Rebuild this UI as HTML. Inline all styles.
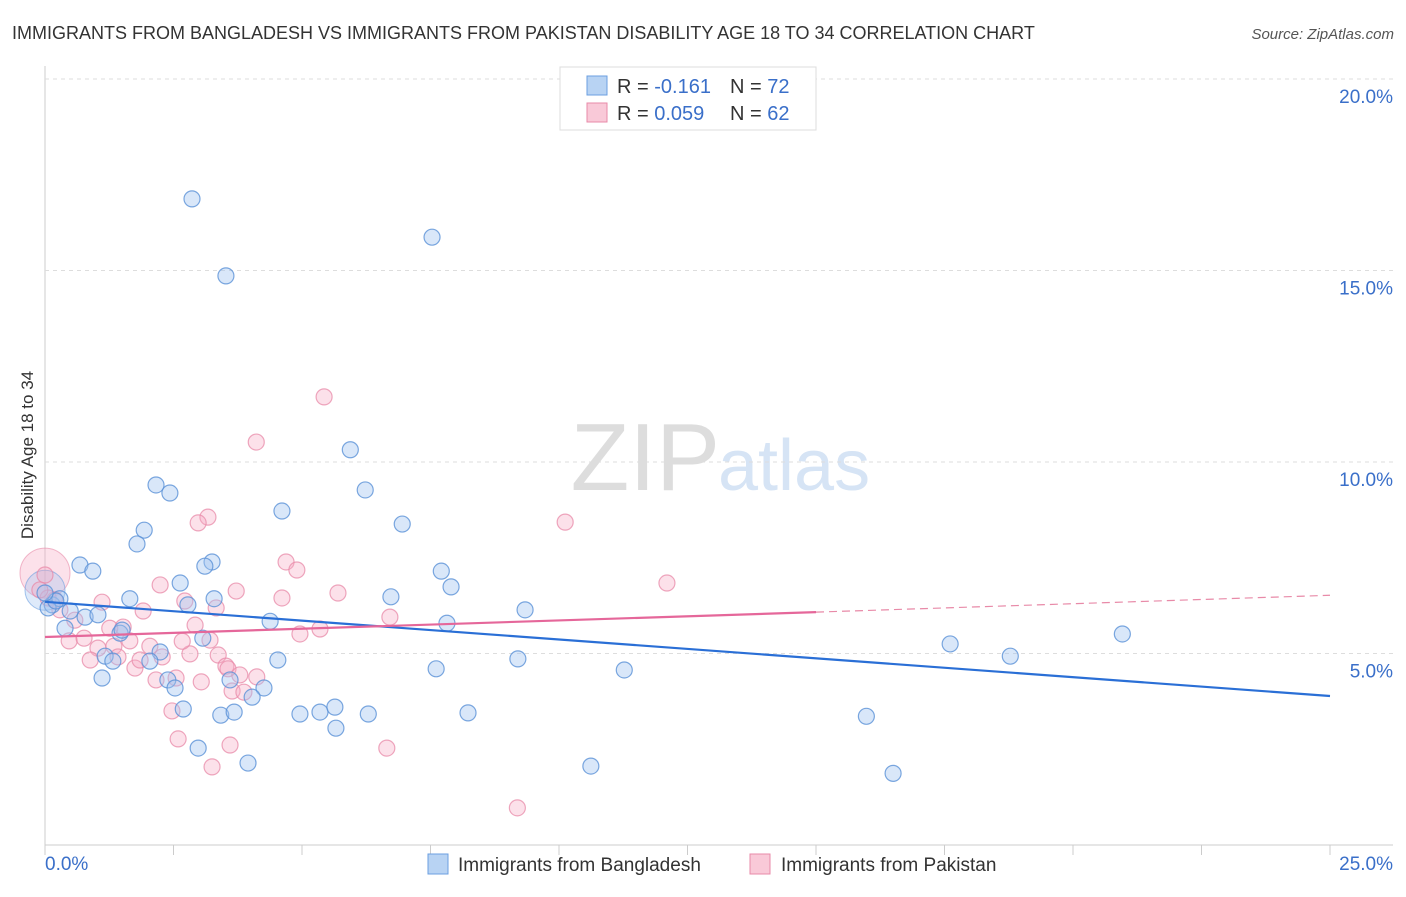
<!DOCTYPE html>
<html><head><meta charset="utf-8">
<style>
body{margin:0;background:#fff;font-family:"Liberation Sans",sans-serif;}
svg text{font-family:"Liberation Sans",sans-serif;}
</style></head>
<body>
<svg id="chart" width="1406" height="892" xmlns="http://www.w3.org/2000/svg">
<text x="12" y="39" font-size="18" fill="#333">IMMIGRANTS FROM BANGLADESH VS IMMIGRANTS FROM PAKISTAN DISABILITY AGE 18 TO 34 CORRELATION CHART</text>
<text x="1394" y="39" font-size="15" fill="#555" text-anchor="end" font-style="italic">Source: ZipAtlas.com</text>
<text x="720" y="490" font-size="96" text-anchor="end" fill="#ddd" font-family="Liberation Serif">ZIP</text>
<text x="718" y="490" font-size="72" fill="#d6e4f5">atlas</text>
<text transform="translate(33,455) rotate(-90)" font-size="17" fill="#333" text-anchor="middle">Disability Age 18 to 34</text>
<g id="grid"></g>
<g id="marks"></g>
<g>
<rect x="560" y="67" width="256" height="63" fill="#fff" stroke="#ddd"/>
<rect x="587" y="76" width="20" height="19" fill="#b8d3f3" stroke="#6b9fe0"/>
<rect x="587" y="103" width="20" height="19" fill="#f9c9d8" stroke="#e88aa8"/>
<text x="617" y="93" font-size="20" fill="#333">R = <tspan fill="#3a6fc9">-0.161</tspan></text>
<text x="730" y="93" font-size="20" fill="#333">N = <tspan fill="#3a6fc9">72</tspan></text>
<text x="617" y="120" font-size="20" fill="#333">R = <tspan fill="#3a6fc9">0.059</tspan></text>
<text x="730" y="120" font-size="20" fill="#333">N = <tspan fill="#3a6fc9">62</tspan></text>
</g>
<g>
<rect x="428" y="854" width="20" height="20" fill="#b8d3f3" stroke="#6b9fe0"/>
<text x="458" y="871" font-size="19" fill="#333">Immigrants from Bangladesh</text>
<rect x="750" y="854" width="20" height="20" fill="#f9c9d8" stroke="#e88aa8"/>
<text x="781" y="871" font-size="19" fill="#333">Immigrants from Pakistan</text>
</g>
</svg>
<script>
const yTicks=[5,10,15,20];
const yTickLabels=["5.0%","10.0%","15.0%","20.0%"];
const xTickLabels=["0.0%","25.0%"];
const blueX=[2.86,7.53,3.52,5.94,2.16,2.43,6.23,4.61,6.95,1.93,1.79,0.68,3.25,0.93,3.11,2.63,7.71,7.90,6.73,1.65,3.29,2.78,9.34,0.14,0.29,0.49,0.78,1.03,1.46,1.50,0.39,4.38,7.82,3.07,2.24,2.04,1.17,1.32,4.53,9.20,7.61,11.27,17.61,18.78,20.96,1.11,2.39,2.53,3.60,4.26,4.03,2.69,3.42,3.68,4.96,5.35,5.64,6.29,8.23,5.66,2.98,3.95,10.62,15.98,16.50,0.06,0.21,0.0];
const blueY=[16.87,15.87,14.86,10.32,9.40,9.19,9.27,8.72,8.38,8.22,7.86,7.31,7.39,7.15,7.28,6.84,7.15,6.74,6.48,6.43,6.43,6.27,6.14,6.27,6.43,6.11,5.95,6.01,5.53,5.61,5.66,5.84,5.79,5.40,5.04,4.80,4.93,4.80,4.83,4.86,4.60,4.57,5.25,4.93,5.51,4.36,4.31,4.10,4.31,4.10,3.86,3.55,3.39,3.47,3.42,3.47,3.60,3.42,3.45,3.05,2.53,2.14,2.06,3.36,1.87,6.19,6.37,6.58];
const pinkX=[5.43,4.11,10.12,3.17,2.98,4.69,4.90,12.10,2.24,3.72,5.70,4.61,1.11,2.72,3.33,1.91,6.71,5.35,4.96,2.92,1.52,0.47,0.76,1.03,1.34,1.65,2.04,2.28,2.82,3.37,3.52,3.56,3.79,4.12,3.64,2.16,2.55,3.04,3.87,2.47,2.59,3.60,3.25,6.65,9.19,0.0,0.19,0.29,0.58,1.26,1.75,0.88,1.42,0.06,-0.10,2.67,3.21,1.85];
const pinkY=[11.70,10.52,8.43,8.56,8.41,7.39,7.18,6.84,6.79,6.63,6.58,6.45,6.34,6.37,6.19,6.11,5.95,5.64,5.51,5.74,5.69,5.33,5.40,5.14,5.19,5.33,5.19,4.91,4.99,4.96,4.67,4.60,4.44,4.39,4.02,4.31,4.36,4.26,3.99,3.50,2.77,2.61,2.04,2.53,0.97,7.05,6.40,6.14,5.87,5.66,4.62,4.83,4.91,6.45,6.66,5.32,5.35,4.83];
const blueTrend=[[0,6.35],[25,3.89]];
const pinkTrend=[[0,5.43],[15,6.08]];
const pinkDash=[[15,6.08],[25,6.52]];
const NS="http://www.w3.org/2000/svg";
const X0=45,X1=1330,Y0=845,PX=191.5/5;
const sx=v=>X0+(v/25)*(X1-X0);
const sy=v=>Y0-v*PX;
function mk(tag,attrs,parent){const e=document.createElementNS(NS,tag);for(const k in attrs)e.setAttribute(k,attrs[k]);parent.appendChild(e);return e;}
const grid=document.getElementById('grid'),marks=document.getElementById('marks');
let l=mk('line',{x1:X0,y1:66,x2:X0,y2:Y0,stroke:'#ccc'},grid);


l=mk('line',{x1:X0,y1:Y0,x2:1393,y2:Y0,stroke:'#ccc'},grid);


yTicks.forEach((t,i)=>{
 const g=mk('line',{x1:X0,y1:sy(t),x2:1393,y2:sy(t),stroke:'#ddd','stroke-dasharray':'4,4'},grid);
 
 
 const tx=mk('text',{x:1393,y:sy(t)+24,'font-size':19,fill:'#3a6fc9','text-anchor':'end'},grid);
 tx.textContent=yTickLabels[i];
 
 
});
for(let i=0;i<=10;i++){
 const t=mk('line',{x1:sx(i*2.5),y1:Y0,x2:sx(i*2.5),y2:Y0+10,stroke:'#ccc'},grid);
 
 
}
let xl=mk('text',{x:45,y:870,'font-size':19,fill:'#3a6fc9'},grid);xl.textContent=xTickLabels[0];


xl=mk('text',{x:1393,y:870,'font-size':19,fill:'#3a6fc9','text-anchor':'end'},grid);xl.textContent=xTickLabels[1];


let big=mk('circle',{cx:sx(0),cy:sy(7.1),r:25,fill:'rgba(245,170,195,0.35)',stroke:'rgba(232,138,168,0.6)'},marks);


big=mk('circle',{cx:sx(0),cy:sy(6.65),r:20,fill:'rgba(160,195,240,0.35)',stroke:'rgba(107,159,224,0.6)'},marks);


pinkX.forEach((x,i)=>{
 const c=mk('circle',{cx:sx(x),cy:sy(pinkY[i]),r:8,fill:'rgba(245,170,195,0.35)',stroke:'rgba(232,138,168,0.75)','stroke-width':1.2},marks);
 
 
});
blueX.forEach((x,i)=>{
 const c=mk('circle',{cx:sx(x),cy:sy(blueY[i]),r:8,fill:'rgba(160,195,240,0.4)',stroke:'rgba(90,145,215,0.8)','stroke-width':1.2},marks);
 
 
});
let tl=mk('line',{x1:sx(blueTrend[0][0]),y1:sy(blueTrend[0][1]),x2:sx(blueTrend[1][0]),y2:sy(blueTrend[1][1]),stroke:'#2a6fd6','stroke-width':2.2},marks);


tl=mk('line',{x1:sx(pinkTrend[0][0]),y1:sy(pinkTrend[0][1]),x2:sx(pinkTrend[1][0]),y2:sy(pinkTrend[1][1]),stroke:'#e5679a','stroke-width':2.2},marks);


tl=mk('line',{x1:sx(pinkDash[0][0]),y1:sy(pinkDash[0][1]),x2:sx(pinkDash[1][0]),y2:sy(pinkDash[1][1]),stroke:'#e88aa8','stroke-width':1.2,'stroke-dasharray':'8,5'},marks);


</script>
</body></html>
